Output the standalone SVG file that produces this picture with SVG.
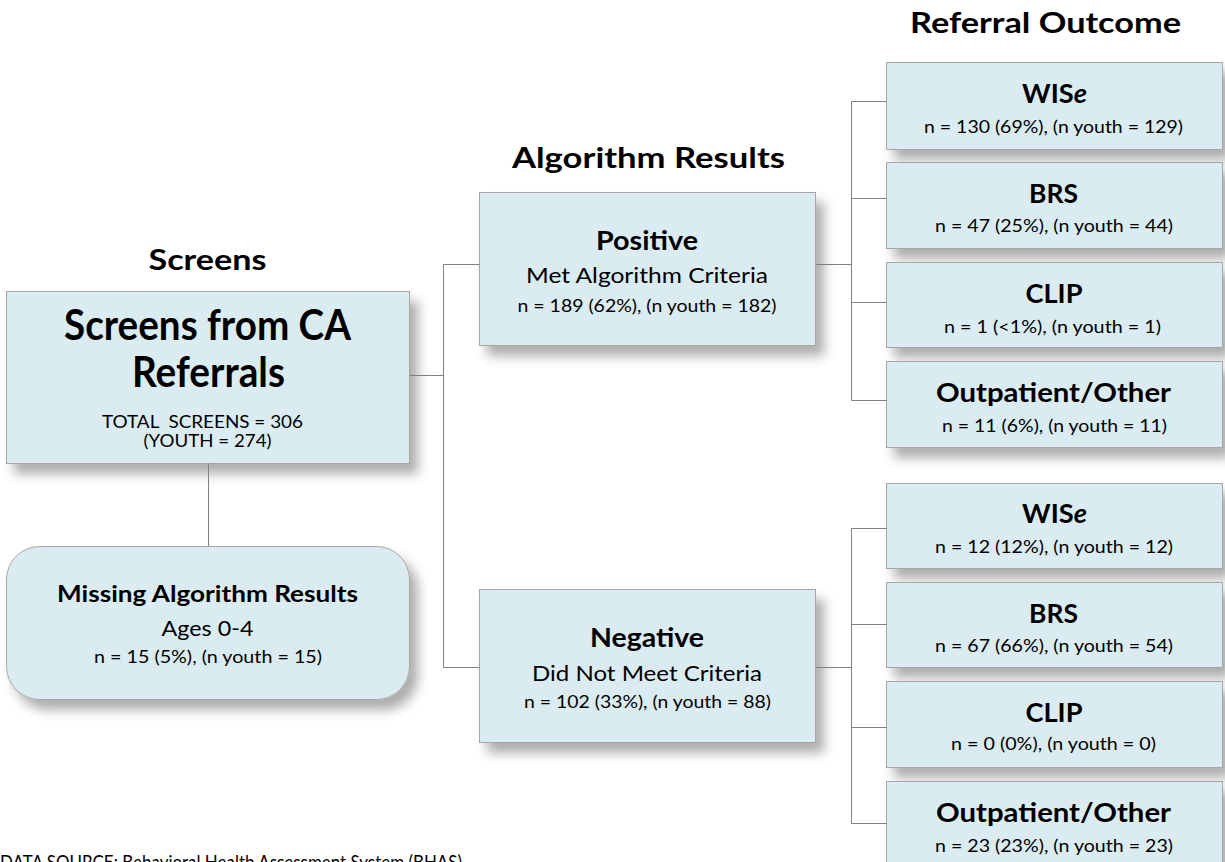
<svg xmlns="http://www.w3.org/2000/svg" width="1225" height="862" viewBox="0 0 1225 862">
<defs>
<filter id="sh" x="-10%" y="-10%" width="130%" height="140%">
<feDropShadow dx="8" dy="10" stdDeviation="6" flood-color="#000" flood-opacity="0.32"/>
</filter>
<style>
.box{fill:#DAECF2;stroke:#A6A6A6;stroke-width:1;filter:url(#sh)}
.t{font-family:Lato,"Open Sans","Liberation Sans",sans-serif;fill:#000;text-anchor:middle}
.b{font-weight:bold}
.hd{font-size:28px;font-weight:bold}
.big{font-size:42px;font-weight:bold}
.sm{font-size:17px}
.sub{font-size:21px}
.n{font-size:18px}
.nm{font-size:27px;font-weight:bold}
.con{fill:none;stroke:#808080;stroke-width:1}
</style>
</defs>
<rect width="1225" height="862" fill="#fff"/>

<text class="t hd" x="207.5" y="270" textLength="118" lengthAdjust="spacingAndGlyphs">Screens</text>
<text class="t hd" x="648.5" y="168" textLength="273" lengthAdjust="spacingAndGlyphs">Algorithm Results</text>
<text class="t hd" x="1045.5" y="33" textLength="271" lengthAdjust="spacingAndGlyphs">Referral Outcome</text>

<g id="screens">
<rect class="box" x="6.5" y="291.5" width="403" height="172"/>
<text class="t big" x="207.5" y="340" textLength="287" lengthAdjust="spacingAndGlyphs">Screens from CA</text>
<text class="t big" x="208.5" y="387" textLength="153" lengthAdjust="spacingAndGlyphs">Referrals</text>
<text class="t sm" x="202.5" y="428" textLength="201" lengthAdjust="spacingAndGlyphs" xml:space="preserve">TOTAL  SCREENS = 306</text>
<text class="t sm" x="207.5" y="447" textLength="128" lengthAdjust="spacingAndGlyphs">(YOUTH = 274)</text>
</g>

<g id="missing">
<rect class="box" x="6.5" y="546.5" width="403" height="153" rx="33"/>
<text class="t b" style="font-size:22px" x="207.5" y="602" textLength="301" lengthAdjust="spacingAndGlyphs">Missing Algorithm Results</text>
<text class="t sub" x="207.5" y="636" textLength="92" lengthAdjust="spacingAndGlyphs">Ages 0-4</text>
<text class="t n" x="208" y="663" textLength="228" lengthAdjust="spacingAndGlyphs">n = 15 (5%), (n youth = 15)</text>
</g>

<g id="positive">
<rect class="box" x="479.5" y="192.5" width="336" height="153"/>
<text class="t nm" x="647" y="250" textLength="102" lengthAdjust="spacingAndGlyphs">Positive</text>
<text class="t sub" x="647" y="283" textLength="242" lengthAdjust="spacingAndGlyphs">Met Algorithm Criteria</text>
<text class="t n" x="647" y="312" textLength="259" lengthAdjust="spacingAndGlyphs">n = 189 (62%), (n youth = 182)</text>
</g>

<g id="negative">
<rect class="box" x="479.5" y="589.5" width="336" height="153"/>
<text class="t nm" x="647" y="647" textLength="114" lengthAdjust="spacingAndGlyphs">Negative</text>
<text class="t sub" x="647" y="681" textLength="230" lengthAdjust="spacingAndGlyphs">Did Not Meet Criteria</text>
<text class="t n" x="647.5" y="708" textLength="247" lengthAdjust="spacingAndGlyphs">n = 102 (33%), (n youth = 88)</text>
</g>

<g id="pos-wise">
<rect class="box" x="886.5" y="62.5" width="336" height="87"/>
<text class="t nm" x="1054.5" y="103" textLength="65" lengthAdjust="spacingAndGlyphs">WIS<tspan font-style="italic">e</tspan></text>
<text class="t n" x="1053.5" y="133" textLength="259" lengthAdjust="spacingAndGlyphs">n = 130 (69%), (n youth = 129)</text>
</g>
<g id="pos-brs">
<rect class="box" x="886.5" y="162.5" width="336" height="86"/>
<text class="t nm" x="1053.5" y="203" textLength="49" lengthAdjust="spacingAndGlyphs">BRS</text>
<text class="t n" x="1054" y="232" textLength="238" lengthAdjust="spacingAndGlyphs">n = 47 (25%), (n youth = 44)</text>
</g>
<g id="pos-clip">
<rect class="box" x="886.5" y="262.5" width="336" height="85"/>
<text class="t nm" x="1054" y="303" textLength="57" lengthAdjust="spacingAndGlyphs">CLIP</text>
<text class="t n" x="1052.5" y="333" textLength="217" lengthAdjust="spacingAndGlyphs">n = 1 (&lt;1%), (n youth = 1)</text>
</g>
<g id="pos-other">
<rect class="box" x="886.5" y="361.5" width="336" height="86"/>
<text class="t nm" x="1053.5" y="402" textLength="235" lengthAdjust="spacingAndGlyphs">Outpatient/Other</text>
<text class="t n" x="1054.5" y="432" textLength="225" lengthAdjust="spacingAndGlyphs">n = 11 (6%), (n youth = 11)</text>
</g>

<g id="neg-wise">
<rect class="box" x="886.5" y="483.5" width="336" height="85"/>
<text class="t nm" x="1054.5" y="523" textLength="65" lengthAdjust="spacingAndGlyphs">WIS<tspan font-style="italic">e</tspan></text>
<text class="t n" x="1054" y="553" textLength="238" lengthAdjust="spacingAndGlyphs">n = 12 (12%), (n youth = 12)</text>
</g>
<g id="neg-brs">
<rect class="box" x="886.5" y="582.5" width="336" height="85"/>
<text class="t nm" x="1053.5" y="623" textLength="49" lengthAdjust="spacingAndGlyphs">BRS</text>
<text class="t n" x="1054" y="652" textLength="238" lengthAdjust="spacingAndGlyphs">n = 67 (66%), (n youth = 54)</text>
</g>
<g id="neg-clip">
<rect class="box" x="886.5" y="681.5" width="336" height="86"/>
<text class="t nm" x="1054" y="722" textLength="57" lengthAdjust="spacingAndGlyphs">CLIP</text>
<text class="t n" x="1053.5" y="750" textLength="205" lengthAdjust="spacingAndGlyphs">n = 0 (0%), (n youth = 0)</text>
</g>
<g id="neg-other">
<rect class="box" x="886.5" y="781.5" width="336" height="86"/>
<text class="t nm" x="1053.5" y="822" textLength="235" lengthAdjust="spacingAndGlyphs">Outpatient/Other</text>
<text class="t n" x="1054" y="852" textLength="238" lengthAdjust="spacingAndGlyphs">n = 23 (23%), (n youth = 23)</text>
</g>

<g id="connectors">
<path class="con" d="M409.5 375.5H443.5M443.5 264.5V667.5M443.5 264.5H479.5M443.5 667.5H479.5"/>
<path class="con" d="M208.5 463.5V546.5"/>
<path class="con" d="M815.5 264.5H851.5M851.5 101.5V400.5M851.5 101.5H886.5M851.5 198.5H886.5M851.5 302.5H886.5M851.5 400.5H886.5"/>
<path class="con" d="M815.5 667.5H851.5M851.5 528.5V823.5M851.5 528.5H886.5M851.5 624.5H886.5M851.5 727.5H886.5M851.5 823.5H886.5"/>
</g>

<text class="t" style="font-size:20px;text-anchor:start" x="0" y="869" textLength="462" lengthAdjust="spacingAndGlyphs">DATA SOURCE: Behavioral Health Assessment System (BHAS)</text>
</svg>
